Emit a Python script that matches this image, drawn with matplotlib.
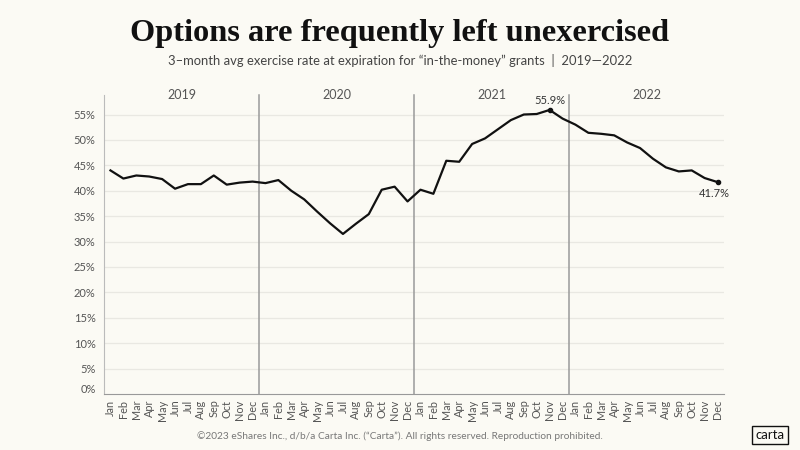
import matplotlib
matplotlib.use("Agg")
import matplotlib.pyplot as plt
from matplotlib.transforms import ScaledTranslation

months = ["Jan", "Feb", "Mar", "Apr", "May", "Jun", "Jul", "Aug", "Sep", "Oct", "Nov", "Dec"]
years = ["2019", "2020", "2021", "2022"]
rate_2019 = [44.0, 42.4, 43.0, 42.8, 42.3, 40.4, 41.3, 41.3, 43.0, 41.2, 41.6, 41.8]
rate_2020 = [41.5, 42.1, 40.0, 38.3, 35.9, 33.6, 31.5, 33.5, 35.4, 40.2, 40.8, 37.9]
rate_2021 = [40.2, 39.4, 45.9, 45.7, 49.2, 50.3, 52.1, 53.9, 55.0, 55.1, 55.9, 54.2]
rate_2022 = [53.0, 51.4, 51.2, 50.9, 49.5, 48.4, 46.3, 44.6, 43.8, 44.0, 42.5, 41.7]
y_ticks = [0, 5, 10, 15, 20, 25, 30, 35, 40, 45, 50, 55]

values = rate_2019 + rate_2020 + rate_2021 + rate_2022
labels = months * len(years)
x = list(range(len(values)))

BG = "#FBFAF4"
GRAY = "#555555"
SANS = ["Lato", "DejaVu Sans"]

fig = plt.figure(figsize=(8, 4.5), dpi=100, facecolor=BG)
ax = fig.add_axes([0.13, 0.1244, 0.775, 0.6776], facecolor=BG)

ax.set_xlim(-0.5, len(values) - 0.5)
ax.set_ylim(0, 60)

for t in y_ticks[1:]:
    ax.axhline(t, color="#E9E8E2", lw=0.9, zorder=0)

for i in range(1, len(years)):
    ax.axvline(12 * i - 0.5, ymin=0, ymax=58.8 / 60, color="#9A9A9A", lw=1.1, zorder=1)

for i, yr in enumerate(years):
    ax.text(12 * i + 5.5, 58.8, yr, ha="center", va="center", fontsize=9,
            color=GRAY, family=SANS)

ax.plot(x, values, color="#111111", lw=1.6, zorder=3, solid_joinstyle="round")

imax = values.index(max(values))
ax.plot([imax], [values[imax]], "o", color="#111111", ms=3, zorder=4)
ax.annotate(f"{values[imax]:.1f}%", (imax, values[imax]), xytext=(0, 3),
            textcoords="offset points", ha="center", va="bottom", fontsize=8,
            color="#333333", family=SANS)
ax.plot([x[-1]], [values[-1]], "o", color="#111111", ms=3, zorder=4)
ax.annotate(f"{values[-1]:.1f}%", (x[-1], values[-1]), xytext=(-2, -4),
            textcoords="offset points", ha="center", va="top", fontsize=8,
            color="#333333", family=SANS)

ax.set_yticks(y_ticks)
ax.set_yticklabels([f"{t}%" for t in y_ticks], fontsize=8, color=GRAY, family=SANS)
ax.set_xticks(x)
ax.set_xticklabels(labels, rotation=90, fontsize=7.8, color=GRAY, family=SANS)
ax.tick_params(axis="both", length=0, pad=4)
ax.tick_params(axis="y", pad=6)

ylabs = ax.get_yticklabels()
ylabs[0].set_transform(ylabs[0].get_transform() + ScaledTranslation(0, 4 / 72, fig.dpi_scale_trans))

for s in ["top", "right"]:
    ax.spines[s].set_visible(False)
ax.spines["left"].set_color("#BBBBBB")
ax.spines["bottom"].set_color("#999999")
ax.spines["left"].set_bounds(0, 58.8)

fig.text(0.5, 0.925, "Options are frequently left unexercised", ha="center", va="center",
         fontsize=23.3, fontweight="bold", family=["Liberation Serif", "DejaVu Serif"], color="#111111")
fig.text(0.5, 0.865, "3\u2013month avg exercise rate at expiration for \u201cin-the-money\u201d grants  |  2019\u20142022",
         ha="center", va="center", fontsize=9.4, color="#444444", family=SANS)
fig.text(0.5, 0.031, "\u00a92023 eShares Inc., d/b/a Carta Inc. (\u201cCarta\u201d). All rights reserved. Reproduction prohibited.",
         ha="center", va="center", fontsize=7.3, color="#777777", family=SANS)
fig.text(0.9625, 0.033, "carta", ha="center", va="center", fontsize=9.5, color="#111111",
         family=SANS, bbox=dict(boxstyle="square,pad=0.25", fc=BG, ec="#111111", lw=1))

fig.savefig("out.png", dpi=100, facecolor=BG)
